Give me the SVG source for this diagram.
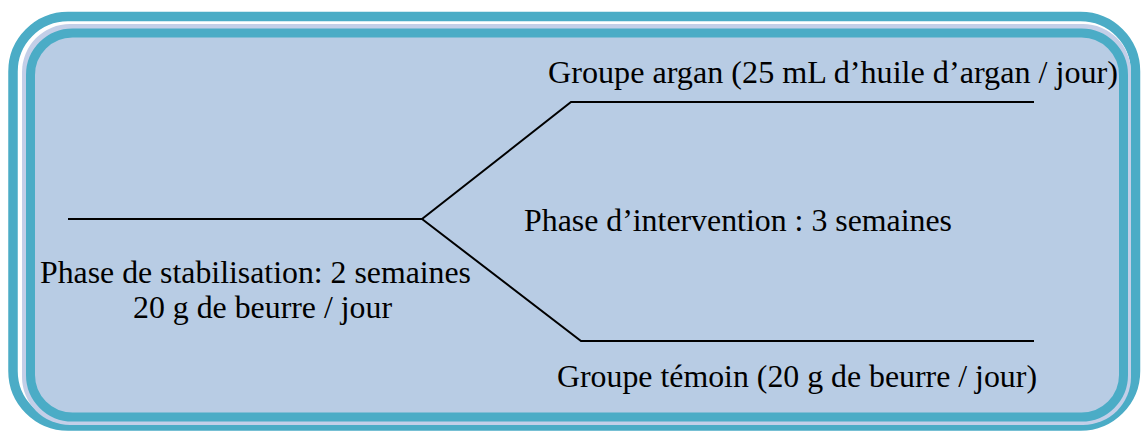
<svg xmlns="http://www.w3.org/2000/svg" width="1145" height="434" viewBox="0 0 1145 434">
<style>
.ln{fill:none;stroke:#000;stroke-width:2}
</style>
<rect width="1145" height="434" fill="#fff"/>
<g id="frame">
<rect x="13" y="16.5" width="1122.5" height="409.5" rx="55" ry="55" fill="#fff" stroke="#4bacc6" stroke-width="9.5"/>
<rect x="22" y="24" width="1109" height="401" rx="48" ry="48" fill="#c3cfe8"/>
<rect x="30.5" y="33" width="1093" height="384" rx="42" ry="42" fill="#b8cce4" stroke="#4bacc6" stroke-width="9"/>
</g>
<g id="connectors">
<polyline class="ln" points="68,219 422,219"/>
<polyline class="ln" points="422,219 571,102 1034,102"/>
<polyline class="ln" points="422,219 581,341 1034,341"/>
</g>
<g font-family="Liberation Serif" font-size="31.5" fill="#000">
<g id="stabilisation">
<text x="40" y="283" textLength="431" lengthAdjust="spacingAndGlyphs">Phase de stabilisation: 2 semaines</text>
<text x="133" y="318" textLength="259" lengthAdjust="spacingAndGlyphs">20 g de beurre / jour</text>
</g>
<g id="intervention">
<text x="524" y="231" textLength="428" lengthAdjust="spacingAndGlyphs">Phase d’intervention : 3 semaines</text>
</g>
<g id="argan">
<text x="548" y="83" textLength="570" lengthAdjust="spacingAndGlyphs">Groupe argan (25 mL d’huile d’argan / jour)</text>
</g>
<g id="temoin">
<text x="557" y="387" textLength="480" lengthAdjust="spacingAndGlyphs">Groupe témoin (20 g de beurre / jour)</text>
</g>
</g>
</svg>
